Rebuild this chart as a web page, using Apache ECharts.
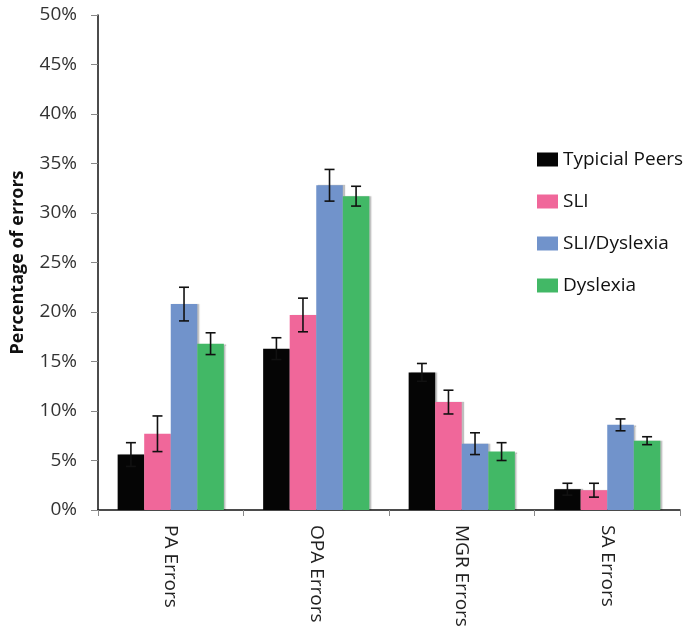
<!DOCTYPE html>
<html>
<head>
<meta charset="utf-8">
<script src="https://cdn.jsdelivr.net/npm/echarts@6/dist/echarts.min.js"></script>
<style>html,body{margin:0;padding:0;background:#fff}#c{width:688px;height:632px}</style>
</head>
<body>
<div id="c"></div>
<script>
var categories = ['PA Errors', 'OPA Errors', 'MGR Errors', 'SA Errors'];
var seriesNames = ['Typicial Peers', 'SLI', 'SLI/Dyslexia', 'Dyslexia'];
var typical = [5.6, 16.3, 13.9, 2.1];
var sli = [7.7, 19.7, 10.9, 2.0];
var sliDys = [20.8, 32.8, 6.7, 8.6];
var dyslexia = [16.8, 31.7, 5.9, 7.0];
var typicalErr = [1.2, 1.1, 0.9, 0.6];
var sliErr = [1.8, 1.7, 1.2, 0.7];
var sliDysErr = [1.7, 1.6, 1.1, 0.6];
var dyslexiaErr = [1.1, 1.0, 0.9, 0.4];
var yTicks = [0, 5, 10, 15, 20, 25, 30, 35, 40, 45, 50];

var values = [typical, sli, sliDys, dyslexia];
var errors = [typicalErr, sliErr, sliDysErr, dyslexiaErr];
var colors = ['#050505', '#F0679A', '#7193CB', '#42B866'];
var gapRatio = 0.27;
var font = 'Open Sans';

var series = [];
values.forEach(function (vals, si) {
  series.push({
    name: seriesNames[si],
    type: 'bar',
    data: vals,
    barGap: '0%',
    barCategoryGap: (gapRatio * 100) + '%',
    itemStyle: { color: colors[si], shadowColor: 'rgba(0,0,0,0.25)', shadowOffsetX: 2, shadowBlur: 1 },
    z: 2
  });
});
values.forEach(function (vals, si) {
  var errData = vals.map(function (v, i) { return [i, v - errors[si][i], v + errors[si][i]]; });
  series.push({
    type: 'custom',
    name: seriesNames[si] + ' err',
    data: errData,
    z: 5,
    silent: true,
    tooltip: { show: false },
    renderItem: function (params, api) {
      var idx = api.value(0);
      var lo = api.coord([idx, api.value(1)]);
      var hi = api.coord([idx, api.value(2)]);
      var band = api.size([1, 0])[0];
      var bw = band * (1 - gapRatio) / 4;
      var x = lo[0] + (si - 1.5) * bw;
      var cap = 5;
      var st = { stroke: '#111', lineWidth: 1.6 };
      return {
        type: 'group',
        children: [
          { type: 'line', shape: { x1: x, y1: lo[1], x2: x, y2: hi[1] }, style: st },
          { type: 'line', shape: { x1: x - cap, y1: lo[1], x2: x + cap, y2: lo[1] }, style: st },
          { type: 'line', shape: { x1: x - cap, y1: hi[1], x2: x + cap, y2: hi[1] }, style: st }
        ]
      };
    }
  });
});

var chart = echarts.init(document.getElementById('c'));
chart.setOption({
  animation: false,
  backgroundColor: '#fff',
  grid: { left: 98, right: 8, top: 15, bottom: 122, containLabel: false },
  legend: {
    data: seriesNames,
    orient: 'vertical',
    left: 537,
    top: 150,
    padding: 0,
    itemWidth: 21,
    itemHeight: 14,
    itemGap: 23,
    icon: 'rect',
    textStyle: { fontFamily: font, fontSize: 19, color: '#111' }
  },
  xAxis: {
    type: 'category',
    data: categories,
    axisLine: { lineStyle: { color: '#111', width: 1.5 } },
    axisTick: { show: true, alignWithLabel: false, length: 6, lineStyle: { color: '#888' } },
    axisLabel: { rotate: -90, margin: 15, fontFamily: font, fontSize: 19, color: '#222' }
  },
  yAxis: {
    type: 'value',
    min: 0,
    max: 50,
    interval: 5,
    name: 'Percentage of errors',
    nameLocation: 'middle',
    nameGap: 71,
    nameTextStyle: { fontFamily: font, fontSize: 18, fontWeight: 'bold', color: '#111' },
    axisLine: { show: true, lineStyle: { color: '#111', width: 1.5 } },
    axisTick: { show: true, length: 7, lineStyle: { color: '#888' } },
    splitLine: { show: false },
    axisLabel: {
      margin: 21,
      fontFamily: font,
      fontSize: 19,
      color: '#333',
      formatter: function (v) { return yTicks.indexOf(v) >= 0 ? v + '%' : ''; }
    }
  },
  series: series
});
</script>
</body>
</html>
